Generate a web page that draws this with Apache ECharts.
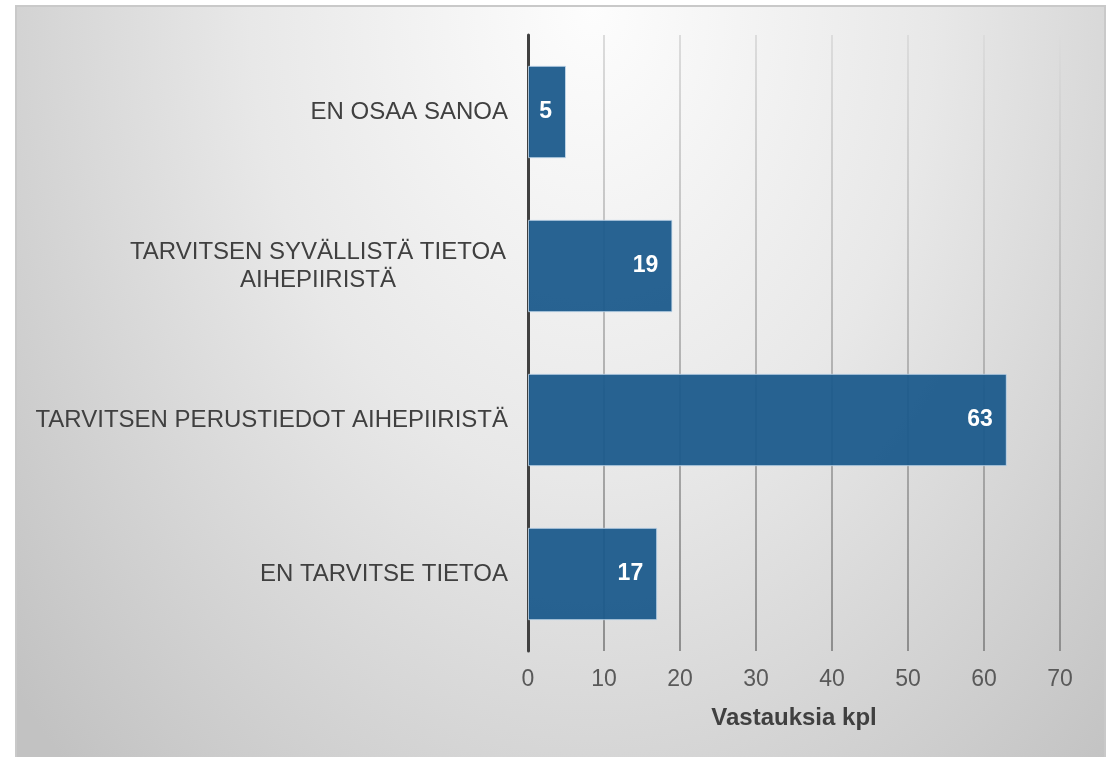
<!DOCTYPE html>
<html>
<head>
<meta charset="utf-8">
<title>Vastaukset</title>
<script src="https://cdn.jsdelivr.net/npm/echarts@6/dist/echarts.min.js"></script>
<style>
    html, body { margin: 0; padding: 0; background: #fff; }
    /* kaavion kehys ja säteittäinen taustaliukuväri */
    #frame {
        position: absolute;
        left: 15px;
        top: 5px;
        width: 1087px;
        height: 752px;
        border: 2px solid #c9c9c9;
        border-bottom: none;
        background: radial-gradient(760px 1050px at 575px 0px, #fdfdfd 0%, #e8e8e8 45%, #c2c2c2 100%);
    }
    #chart { width: 100%; height: 100%; }
</style>
</head>
<body>
<div id="frame"><div id="chart"></div></div>
<script>
// kategoriat alhaalta ylös (y-akselin järjestys)
var categories = ['EN TARVITSE TIETOA', 'TARVITSEN PERUSTIEDOT AIHEPIIRISTÄ', 'TARVITSEN SYVÄLLISTÄ TIETOA AIHEPIIRISTÄ', 'EN OSAA SANOA'];
// vastausten määrät
var counts = [17, 63, 19, 5];
// x-akselin asteikko
var axisMin = 0;
var axisMax = 70;
var axisStep = 10;
var axisName = 'Vastauksia kpl';

var font = '"Liberation Sans", Arial, sans-serif';

/**
 * Pitkä otsikko kahdelle riville, rivit keskitetty
 */
function wrapLabel(text) {
    if (text.length <= 36) {
        return text;
    }
    var cut = text.lastIndexOf(' ', 30);
    return '{c|' + text.slice(0, cut) + '}\n{c|' + text.slice(cut + 1) + '}';
}

var chart = echarts.init(document.getElementById('chart'));

var option = {
    backgroundColor: 'transparent',
    animation: false,
    grid: {
        left: 511,
        top: 28,
        width: 532,
        height: 616,
        containLabel: false
    },
    xAxis: {
        type: 'value',
        min: axisMin,
        max: axisMax,
        interval: axisStep,
        name: axisName,
        nameLocation: 'middle',
        nameGap: 55,
        nameTextStyle: {
            color: '#404040',
            fontSize: 24,
            fontWeight: 'bold',
            fontFamily: font
        },
        axisLine: { show: false },
        axisTick: { show: false },
        axisLabel: {
            color: '#595959',
            fontSize: 23,
            fontFamily: font,
            margin: 17
        },
        splitLine: {
            show: true,
            lineStyle: {
                width: 2,
                // viivat tummuvat alaspäin taustan mukana
                color: {
                    type: 'linear',
                    x: 0, y: 28, x2: 0, y2: 644,
                    global: true,
                    colorStops: [
                        { offset: 0, color: '#dcdcdc' },
                        { offset: 1, color: '#8e8e8e' }
                    ]
                }
            }
        }
    },
    yAxis: {
        type: 'category',
        data: categories,
        axisLine: {
            show: true,
            lineStyle: { color: '#404040', width: 3 }
        },
        axisTick: { show: false },
        splitLine: { show: false },
        axisLabel: {
            color: '#404040',
            fontSize: 24,
            fontFamily: font,
            margin: 20,
            lineHeight: 28,
            formatter: wrapLabel,
            rich: {
                c: {
                    width: 380,
                    align: 'center',
                    color: '#404040',
                    fontSize: 24,
                    fontFamily: font,
                    lineHeight: 28
                }
            }
        }
    },
    series: [
        {
            type: 'bar',
            data: counts,
            barCategoryGap: '40%',
            itemStyle: {
                color: 'rgba(27,89,139,0.94)',
                borderColor: 'rgba(200,220,238,0.8)',
                borderWidth: 1
            },
            label: {
                show: true,
                position: 'insideRight',
                distance: 14,
                color: '#fff',
                fontSize: 23,
                fontWeight: 'bold',
                fontFamily: font
            }
        }
    ]
};
chart.setOption(option);
</script>
</body>
</html>
